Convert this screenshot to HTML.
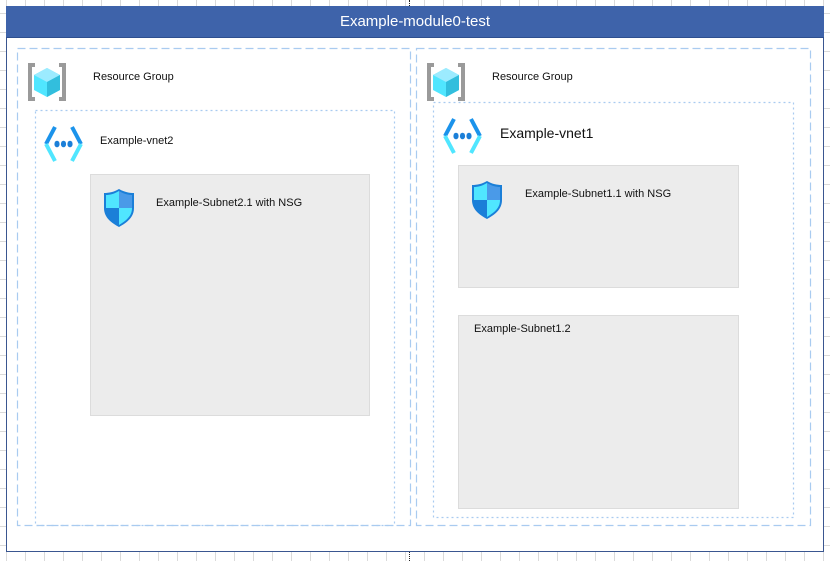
<!DOCTYPE html>
<html><head><meta charset="utf-8"><style>
html,body{margin:0;padding:0}
body{width:830px;height:561px;position:relative;overflow:hidden;background-color:#fff;
background-image:linear-gradient(to right,#dadada 1px,transparent 1px),linear-gradient(to bottom,#dadada 1px,transparent 1px);
background-size:19px 19px;background-position:6px 13px;font-family:"Liberation Sans",sans-serif;}
.a{position:absolute;box-sizing:border-box}
.t{position:absolute;font-size:11px;color:#111;white-space:nowrap;line-height:1}
</style></head><body>
<div class="a" style="left:6px;top:6px;width:818px;height:546px;background:#fff;border:1px solid #3a5690"></div>
<div class="a" style="left:6px;top:6px;width:818px;height:32px;background:#3e63aa;border-bottom:1px solid #2e4f8f;color:#fff;font-size:15px;text-align:center;line-height:31px">Example-module0-test</div>
<div class="a" style="left:409px;top:0;width:1px;height:6px;border-left:1px dotted #222"></div>
<div class="a" style="left:409px;top:552px;width:1px;height:9px;border-left:1px dotted #222"></div>

<svg class="a" style="left:0;top:0" width="830" height="561">
<g fill="none" stroke="#a9cbf0" stroke-width="1.2">
<rect x="17.5" y="48.5" width="393" height="477" stroke-dasharray="8,4"/>
<rect x="416.5" y="48.5" width="394" height="477" stroke-dasharray="8,4"/>
<rect x="35.5" y="110.5" width="359" height="415" stroke-dasharray="2,3"/>
<rect x="433.5" y="102.5" width="360" height="415" stroke-dasharray="2,3"/>
</g>
<g fill="#ececec" stroke="#dcdcdc">
<rect x="90.5" y="174.5" width="279" height="241"/>
<rect x="458.5" y="165.5" width="280" height="122"/>
<rect x="458.5" y="315.5" width="280" height="193"/>
</g>
<defs>
<g id="rg">
<path d="M8 2 H3 V36 H8" fill="none" stroke="#9a9a9a" stroke-width="4"/>
<path d="M32 2 H37 V36 H32" fill="none" stroke="#9a9a9a" stroke-width="4"/>
<polygon points="20,5 33,12 33,27 20,34 7,27 7,12" fill="#50e6ff"/>
<polygon points="20,5 33,12 20,19 7,12" fill="#9cebff"/>
<polygon points="20,19 33,12 33,27 20,34" fill="#32bedd"/>
</g>
<g id="vn">
<path d="M11 2 L2 19" fill="none" stroke="#1b93eb" stroke-width="4"/>
<path d="M28 2 L37 19" fill="none" stroke="#1b93eb" stroke-width="4"/>
<path d="M2 19 L11 36 M37 19 L28 36" fill="none" stroke="#50e6ff" stroke-width="4"/>
<ellipse cx="13" cy="19" rx="2.6" ry="3.3" fill="#1b7fd8"/>
<ellipse cx="19.5" cy="19" rx="2.6" ry="3.3" fill="#1b7fd8"/>
<ellipse cx="26" cy="19" rx="2.6" ry="3.3" fill="#1b7fd8"/>
</g>
<g id="sh">
<path d="M16 1 C11 4 6 5 1 5 V20 C1 30 9 35 16 39 C23 35 31 30 31 20 V5 C26 5 21 4 16 1Z" fill="#1b7fd8"/>
<path d="M16 3 C11 6 7 7 3 7 V20 H16Z" fill="#50e6ff"/>
<path d="M16 20 H29 C29 29 22 33 16 37Z" fill="#50e6ff"/>
<path d="M16 3 C21 6 25 7 29 7 V20 H16Z" fill="#4a9ae8"/>
</g>
</defs>
<use href="#rg" x="27" y="63"/>
<use href="#rg" x="426" y="63"/>
<use href="#vn" x="44" y="125"/>
<use href="#vn" x="443" y="117"/>
<use href="#sh" x="103" y="188"/>
<use href="#sh" x="471" y="180"/>
</svg>
<div class="t" style="left:93px;top:72px">Resource Group</div>
<div class="t" style="left:492px;top:72px">Resource Group</div>
<div class="t" style="left:100px;top:136px">Example-vnet2</div>
<div class="t" style="left:500px;top:126px;font-size:14px">Example-vnet1</div>
<div class="t" style="left:156px;top:198px">Example-Subnet2.1 with NSG</div>
<div class="t" style="left:525px;top:189px">Example-Subnet1.1 with NSG</div>
<div class="t" style="left:474px;top:324px">Example-Subnet1.2</div>
</body></html>
